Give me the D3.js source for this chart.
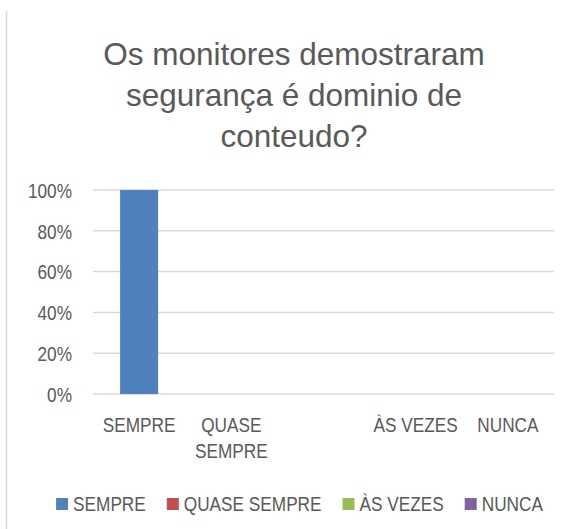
<!DOCTYPE html>
<html>
<head>
<meta charset="utf-8">
<script src="https://cdn.jsdelivr.net/npm/d3@7"></script>
<style>
  html, body { margin: 0; padding: 0; background: #fff; }
  svg { display: block; }
  text { fill: #595959; }
</style>
</head>
<body>
<svg id="chart" width="574" height="529"></svg>
<script>
// Survey answers: share of responses per option
const titleLines = ["Os monitores demostraram", "segurança é dominio de", "conteudo?"];
const categories = ["SEMPRE", "QUASE SEMPRE", "", "ÀS VEZES", "NUNCA"];
const values = [1, 0, null, 0, 0];
const seriesNames = ["SEMPRE", "QUASE SEMPRE", "ÀS VEZES", "NUNCA"];
const seriesColors = ["#4f81bd", "#c0504d", "#9bbb59", "#8064a2"];
const yTicks = [0, 0.2, 0.4, 0.6, 0.8, 1];

const svg = d3.select("#chart");
const W = 574, H = 529;
const plot = { left: 93, right: 554, top: 190, bottom: 394 };
const labelFont = "'Liberation Sans', Arial, sans-serif";
const labelSize = "20.5px";
const narrow = 0.84; // horizontal squeeze for a condensed label face
const color = d3.scaleOrdinal().domain(seriesNames).range(seriesColors);

// chart area edge
svg.append("line")
  .attr("x1", 6.5).attr("x2", 6.5).attr("y1", 11).attr("y2", H)
  .attr("stroke", "#d9d9d9").attr("stroke-width", 1.5);

// title
svg.append("g").selectAll("text").data(titleLines).join("text")
  .attr("x", 294).attr("y", (d, i) => 65 + i * 41)
  .attr("text-anchor", "middle")
  .style("font-family", "'Liberation Sans', Arial, sans-serif")
  .style("font-size", "31.5px")
  .text(d => d);

const x = d3.scaleBand()
  .domain(d3.range(categories.length))
  .range([plot.left, plot.right])
  .paddingInner(0.588).paddingOuter(0.294);

const y = d3.scaleLinear().domain([0, 1]).range([plot.bottom, plot.top]);

// gridlines
svg.append("g").selectAll("line").data(yTicks).join("line")
  .attr("x1", plot.left).attr("x2", plot.right)
  .attr("y1", d => y(d)).attr("y2", d => y(d))
  .attr("stroke", "#d9d9d9").attr("stroke-width", 1.5);

// y axis labels
const yAxis = svg.append("g")
  .attr("transform", `translate(${plot.left - 21},0)`)
  .call(d3.axisLeft(y).tickValues(yTicks).tickFormat(d3.format(".0%")).tickSize(0).tickPadding(0));
yAxis.select(".domain").remove();
yAxis.selectAll("text")
  .style("font-family", labelFont).style("font-size", labelSize)
  .attr("fill", "#595959").attr("dy", "0.36em")
  .attr("transform", `scale(${narrow},1)`);

// bars
svg.append("g").selectAll("rect")
  .data(values.map((v, i) => ({ v, i })).filter(d => d.v != null && d.v > 0))
  .join("rect")
  .attr("x", d => x(d.i))
  .attr("width", x.bandwidth())
  .attr("y", d => y(d.v))
  .attr("height", d => y(0) - y(d.v))
  .attr("fill", d => color(categories[d.i]));

// category labels, wrapped onto two lines where needed
const xAxis = svg.append("g")
  .attr("transform", `translate(0,${plot.bottom})`)
  .call(d3.axisBottom(x).tickFormat(i => categories[i]).tickSize(0).tickPadding(0));
xAxis.select(".domain").remove();
xAxis.selectAll("text")
  .style("font-family", labelFont).style("font-size", labelSize)
  .attr("fill", "#595959")
  .attr("transform", `scale(${narrow},1)`)
  .each(function (i) {
    const words = categories[i].split(" ");
    const t = d3.select(this).text(null).attr("y", 38).attr("dy", null);
    const lines = words.length > 1 && categories[i].length > 9 ? words : [categories[i]];
    lines.forEach((w, k) => {
      t.append("tspan").attr("x", 0).attr("dy", k === 0 ? 0 : 26).text(w);
    });
  });

// legend
const legend = svg.append("g");
const items = legend.selectAll("g").data(seriesNames).join("g");
items.append("rect").attr("width", 12).attr("height", 12).attr("y", -13)
  .attr("fill", d => color(d));
items.append("g").attr("transform", `translate(17,0) scale(${narrow},1)`)
  .append("text")
  .style("font-family", labelFont).style("font-size", labelSize)
  .text(d => d);
let cx = 0;
items.each(function () {
  const g = d3.select(this);
  const w = 17 + g.select("text").node().getComputedTextLength() * narrow;
  g.attr("transform", `translate(${cx},0)`);
  cx += w + 21;
});
const totalW = cx - 21;
legend.attr("transform", `translate(${299.5 - totalW / 2},511)`);
</script>
</body>
</html>
